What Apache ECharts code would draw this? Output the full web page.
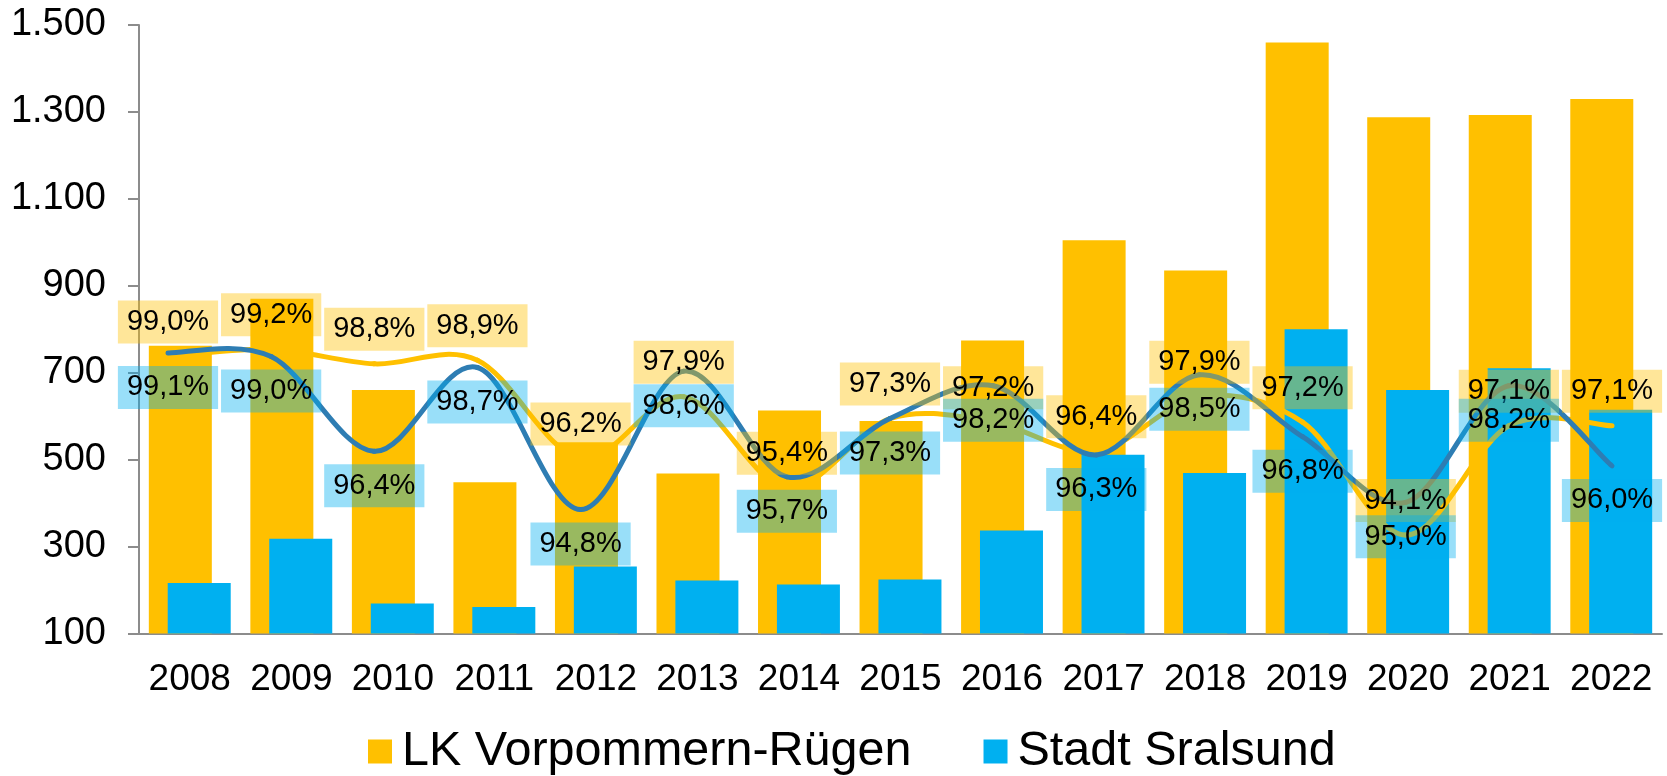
<!DOCTYPE html>
<html>
<head>
<meta charset="utf-8">
<script src="https://cdn.jsdelivr.net/npm/echarts@6/dist/echarts.min.js"></script>
<style>
  html, body { margin: 0; padding: 0; background: #fff; }
  #chart { width: 1667px; height: 776px; }
</style>
</head>
<body>
<div id="chart"></div>
<script>
const years = ["2008", "2009", "2010", "2011", "2012", "2013", "2014", "2015", "2016", "2017", "2018", "2019", "2020", "2021", "2022"];
// Balken (linke Achse)
const lkValues = [762, 870, 660, 448, 540, 468, 613, 589, 774, 1005, 935, 1460, 1288, 1293, 1330];
const stadtValues = [216, 318, 169, 161, 254, 222, 213, 224, 337, 511, 469, 800, 660, 710, 615];
// Quoten in % (verdeckte Achse)
const lkRate = [99.0, 99.2, 98.8, 98.9, 96.2, 97.9, 95.4, 97.3, 97.2, 96.4, 97.9, 97.2, 94.1, 97.1, 97.1];
const stadtRate = [99.1, 99.0, 96.4, 98.7, 94.8, 98.6, 95.7, 97.3, 98.2, 96.3, 98.5, 96.8, 95.0, 98.2, 96.0];

const FONT = "Liberation Sans, Arial, sans-serif";
const YELLOW = "#FFC000";
const BLUE = "#00B0F0";
const LINE_BLUE = "#2E7DB3";
const AXIS_GREY = "#8C8C8C";

const chart = echarts.init(document.getElementById("chart"));

function pct(p) {
  return p.value.toFixed(1).replace(".", ",") + "%";
}

function rateLabel(pos, bg) {
  return {
    show: true,
    position: pos,
    distance: 12,
    formatter: pct,
    color: "#000",
    fontFamily: FONT,
    fontSize: 29,
    lineHeight: 29,
    padding: [7, 9],
    backgroundColor: bg,
  };
}

// Excel-artige Glättung (Catmull-Rom): alle Segmente im ersten Element
function smoothCurve(rates, color) {
  return function (params, api) {
    if (params.dataIndex !== 0) return null;
    const n = rates.length;
    const pts = rates.map((v, k) => api.coord([k, v]));
    const pt = (k) => pts[Math.max(0, Math.min(n - 1, k))];
    const t = 1 / 6;
    const children = [];
    for (let i = 0; i < n - 1; i++) {
      const p0 = pt(i - 1), p1 = pt(i), p2 = pt(i + 1), p3 = pt(i + 2);
      children.push({
        type: "bezierCurve",
        shape: {
          x1: p1[0], y1: p1[1],
          x2: p2[0], y2: p2[1],
          cpx1: p1[0] + (p2[0] - p0[0]) * t,
          cpy1: p1[1] + (p2[1] - p0[1]) * t,
          cpx2: p2[0] - (p3[0] - p1[0]) * t,
          cpy2: p2[1] - (p3[1] - p1[1]) * t,
          percent: 1,
        },
        style: { stroke: color, lineWidth: 5, fill: "none", lineCap: "round" },
      });
    }
    return { type: "group", children: children };
  };
}

const option = {
  animation: false,
  grid: [
    { left: 139, right: 5, top: 25, bottom: 142.5 },
    { left: 168, right: 55, top: 25, bottom: 142.5 },
  ],
  legend: {
    data: ["LK Vorpommern-Rügen", "Stadt Sralsund"],
    left: 368,
    top: 727,
    padding: 0,
    icon: "rect",
    itemWidth: 24,
    itemHeight: 24,
    itemGap: 72,
    textStyle: {
      color: "#000",
      fontFamily: FONT,
      fontSize: 48.5,
      padding: [0, 0, 0, 5],
    },
  },
  xAxis: [
    {
      gridIndex: 0,
      type: "category",
      data: years,
      axisLine: { lineStyle: { color: AXIS_GREY, width: 2 } },
      axisTick: { length: 11, lineStyle: { color: AXIS_GREY, width: 2 } },
      axisLabel: { interval: 0, color: "#000", fontFamily: FONT, fontSize: 37, margin: 28 },
    },
    {
      gridIndex: 1,
      type: "category",
      data: years,
      boundaryGap: false,
      show: false,
    },
  ],
  yAxis: [
    {
      gridIndex: 0,
      type: "value",
      min: 100,
      max: 1500,
      interval: 200,
      splitLine: { show: false },
      axisLine: { show: true, lineStyle: { color: AXIS_GREY, width: 2 } },
      axisTick: { show: true, length: 11, lineStyle: { color: AXIS_GREY, width: 2 } },
      axisLabel: {
        color: "#000",
        fontFamily: FONT,
        fontSize: 38,
        margin: 33,
        formatter: (v) => String(v).replace(/\B(?=(\d{3})+(?!\d))/g, "."),
      },
    },
    {
      gridIndex: 1,
      type: "value",
      min: 91.4,
      max: 108.1,
      show: false,
    },
  ],
  series: [
    {
      name: "LK Vorpommern-Rügen",
      type: "bar",
      xAxisIndex: 0,
      yAxisIndex: 0,
      barWidth: 63,
      barGap: "-70%",
      itemStyle: { color: YELLOW },
      data: lkValues,
    },
    {
      name: "Stadt Sralsund",
      type: "bar",
      xAxisIndex: 0,
      yAxisIndex: 0,
      barWidth: 63,
      barGap: "-70%",
      itemStyle: { color: BLUE },
      data: stadtValues,
    },
    {
      name: "Kurve LK",
      type: "custom",
      xAxisIndex: 1,
      yAxisIndex: 1,
      z: 3,
      clip: false,
      silent: true,
      renderItem: smoothCurve(lkRate, YELLOW),
      data: lkRate.map((v, i) => [i, v]),
    },
    {
      name: "Kurve Stadt",
      type: "custom",
      xAxisIndex: 1,
      yAxisIndex: 1,
      z: 3,
      clip: false,
      silent: true,
      renderItem: smoothCurve(stadtRate, LINE_BLUE),
      data: stadtRate.map((v, i) => [i, v]),
    },
    {
      name: "Quote LK",
      type: "line",
      xAxisIndex: 1,
      yAxisIndex: 1,
      z: 4,
      symbol: "circle",
      symbolSize: 2,
      itemStyle: { color: "rgba(0,0,0,0)" },
      lineStyle: { width: 0, opacity: 0 },
      label: rateLabel("top", "rgba(255,192,0,0.4)"),
      silent: true,
      data: lkRate,
    },
    {
      name: "Quote Stadt",
      type: "line",
      xAxisIndex: 1,
      yAxisIndex: 1,
      z: 4,
      symbol: "circle",
      symbolSize: 2,
      itemStyle: { color: "rgba(0,0,0,0)" },
      lineStyle: { width: 0, opacity: 0 },
      label: rateLabel("bottom", "rgba(0,176,240,0.4)"),
      silent: true,
      data: stadtRate,
    },
  ],
};

chart.setOption(option);
window.addEventListener("resize", () => chart.resize());
</script>
</body>
</html>
